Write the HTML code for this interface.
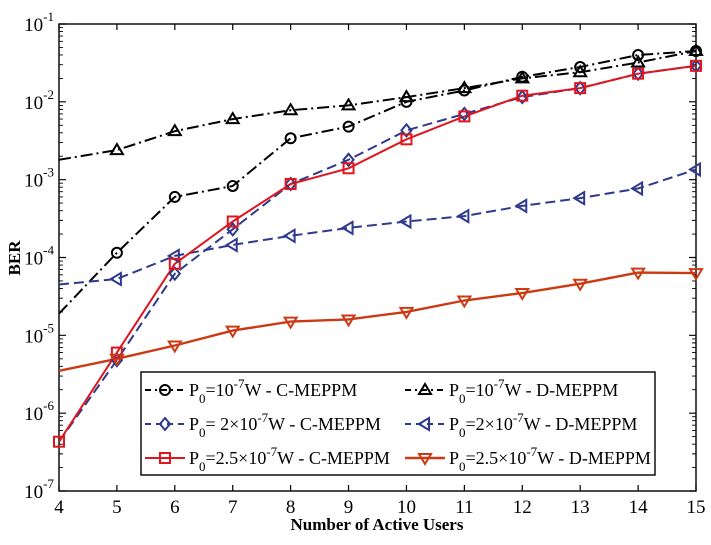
<!DOCTYPE html>
<html><head><meta charset="utf-8"><style>
body{margin:0;background:#fff}
svg text{font-family:"Liberation Serif",serif}
</style></head><body>
<svg id="chart" width="711" height="540" xmlns="http://www.w3.org/2000/svg">
<defs><clipPath id="pc"><rect x="59" y="24" width="637" height="467"/></clipPath></defs>
<rect x="59" y="24" width="637" height="467" fill="#fff" stroke="#000" stroke-width="1.4"/>
<g id="ticks"></g>
<g id="series" clip-path="url(#pc)"></g>
<g id="markers"></g>
<text x="377" y="530" text-anchor="middle" font-size="17" font-weight="bold">Number of Active Users</text>
<text x="20" y="258" text-anchor="middle" font-size="17" font-weight="bold" transform="rotate(-90 20 258)">BER</text>
<g>
<rect x="141" y="372" width="514" height="103" fill="#fff" stroke="#000" stroke-width="1.4"/>
<g id="legend-items"></g>
</g>
</svg>
<script>
const xCats=[4,5,6,7,8,9,10,11,12,13,14,15];
const yTickExps=[-1,-2,-3,-4,-5,-6,-7];
const circC1=[1.9e-5,1.15e-4,6e-4,8.3e-4,3.4e-3,4.8e-3,1e-2,1.4e-2,2.1e-2,2.8e-2,4e-2,4.5e-2];
const triD1=[1.8e-3,2.4e-3,4.2e-3,6e-3,7.8e-3,9e-3,1.15e-2,1.5e-2,2e-2,2.4e-2,3.2e-2,4.5e-2];
const diaC2=[4.3e-7,4.8e-6,6.2e-5,2.3e-4,8.8e-4,1.8e-3,4.3e-3,7e-3,1.15e-2,1.5e-2,2.3e-2,2.9e-2];
const ltriD2=[4.5e-5,5.3e-5,1.05e-4,1.45e-4,1.9e-4,2.4e-4,2.9e-4,3.4e-4,4.6e-4,5.8e-4,7.7e-4,1.35e-3];
const sqC25=[4.3e-7,6e-6,8.3e-5,2.9e-4,8.8e-4,1.4e-3,3.3e-3,6.5e-3,1.2e-2,1.5e-2,2.3e-2,2.9e-2];
const dtriD25=[3.5e-6,5e-6,7.4e-6,1.15e-5,1.5e-5,1.6e-5,2e-5,2.8e-5,3.5e-5,4.6e-5,6.4e-5,6.3e-5];
const NS="http://www.w3.org/2000/svg";
const X0=59,X1=696,Y0=24,Y1=491;
function xs(v){return X0+(v-4)/(15-4)*(X1-X0);}
function ys(v){return Y0+(-1-Math.log10(v))/6*(Y1-Y0);}
function mk(tag,attrs,parent){const e=document.createElementNS(NS,tag);for(const k in attrs)e.setAttribute(k,attrs[k]);parent.appendChild(e);return e;}
const tk=document.getElementById('ticks');
xCats.forEach(c=>{const x=xs(c);
 const t=mk('path',{d:`M${x} ${Y1}v-6M${x} ${Y0}v6`,stroke:'#000','stroke-width':1.2},tk);
 
 const l=mk('text',{x:x,y:Y1+22,'text-anchor':'middle','font-size':19},tk);l.textContent=c;
 });
yTickExps.forEach(e=>{const y=ys(Math.pow(10,e));
 const t=mk('path',{d:`M${X0} ${y}h7M${X1} ${y}h-7`,stroke:'#000','stroke-width':1.2},tk);
 
 if(e>-7){for(let m=2;m<10;m++){const ym=ys(m*Math.pow(10,e-1));mk('path',{d:`M${X0} ${ym}h4M${X1} ${ym}h-4`,stroke:'#000','stroke-width':0.9},tk);}}
 const l=mk('text',{x:X0-5,y:y+7,'text-anchor':'end','font-size':19},tk);
 
 l.innerHTML='10<tspan dy="-10" font-size="13">'+e+'</tspan>';});
const series=[
 {name:'c-meppm-p1',data:circC1,color:'#000',dash:'12 4 2 4',w:2,m:'circle',from:1,label:['=10','-7','W - C-MEPPM']},
 {name:'d-meppm-p1',data:triD1,color:'#000',dash:'12 4 2 4',w:2,m:'tri',from:1,label:['=10','-7','W - D-MEPPM']},
 {name:'c-meppm-p2',data:diaC2,color:'#2e3a8c',dash:'10 5',w:2,m:'dia',from:1,label:['= 2×10','-7','W - C-MEPPM']},
 {name:'d-meppm-p2',data:ltriD2,color:'#2e3a8c',dash:'10 5',w:2,m:'ltri',from:1,label:['=2×10','-7','W - D-MEPPM']},
 {name:'c-meppm-p25',data:sqC25,color:'#e0161e',dash:'',w:2,m:'sq',from:0,label:['=2.5×10','-7','W - C-MEPPM']},
 {name:'d-meppm-p25',data:dtriD25,color:'#cc3a14',dash:'',w:2.4,m:'dtri',from:1,label:['=2.5×10','-7','W - D-MEPPM']}
];
function marker(type,x,y,color,parent){
 const a={fill:'none',stroke:color,'stroke-width':2};
 if(type==='circle')return mk('circle',Object.assign({cx:x,cy:y,r:5},a),parent);
 if(type==='sq')return mk('rect',Object.assign({x:x-5,y:y-5,width:10,height:10},a),parent);
 let p;
 if(type==='tri')p=`${x},${y-6} ${x+6},${y+4} ${x-6},${y+4}`;
 if(type==='dtri')p=`${x},${y+6} ${x+6},${y-4} ${x-6},${y-4}`;
 if(type==='ltri')p=`${x-6},${y} ${x+4},${y-6} ${x+4},${y+6}`;
 if(type==='dia')p=`${x},${y-6} ${x+5},${y} ${x},${y+6} ${x-5},${y}`;
 return mk('polygon',Object.assign({points:p},a),parent);}
const sg=document.getElementById('series'),mg=document.getElementById('markers');
series.forEach(s=>{
 const d=s.data.map((v,i)=>(i?'L':'M')+xs(xCats[i]).toFixed(1)+' '+ys(v).toFixed(1)).join('');
 const p=mk('path',{d:d,fill:'none',stroke:s.color,'stroke-width':s.w,'stroke-dasharray':s.dash},sg);
 
 s.data.forEach((v,i)=>{if(i<s.from)return;const m=marker(s.m,xs(xCats[i]),ys(v),s.color,mg);
  });
});
const lg=document.getElementById('legend-items');
series.forEach((s,i)=>{const col=i%2,row=Math.floor(i/2);
 const lx=col?405:145,ly=390+row*34;
 const g=mk('g',{},lg);
 mk('path',{d:`M${lx} ${ly}h40`,stroke:s.color,'stroke-width':s.w,'stroke-dasharray':s.dash?s.dash.replace(/\d+/,'6'):''},g);
 marker(s.m,lx+20,ly,s.color,g);
 const t=mk('text',{x:lx+44,y:ly+6,'font-size':18},g);
 t.innerHTML='P<tspan dy="7" font-size="13">0</tspan><tspan dy="-7">'+s.label[0]+'</tspan><tspan dy="-8" font-size="13">'+s.label[1]+'</tspan><tspan dy="8">'+s.label[2]+'</tspan>';
});
</script>
</body></html>
